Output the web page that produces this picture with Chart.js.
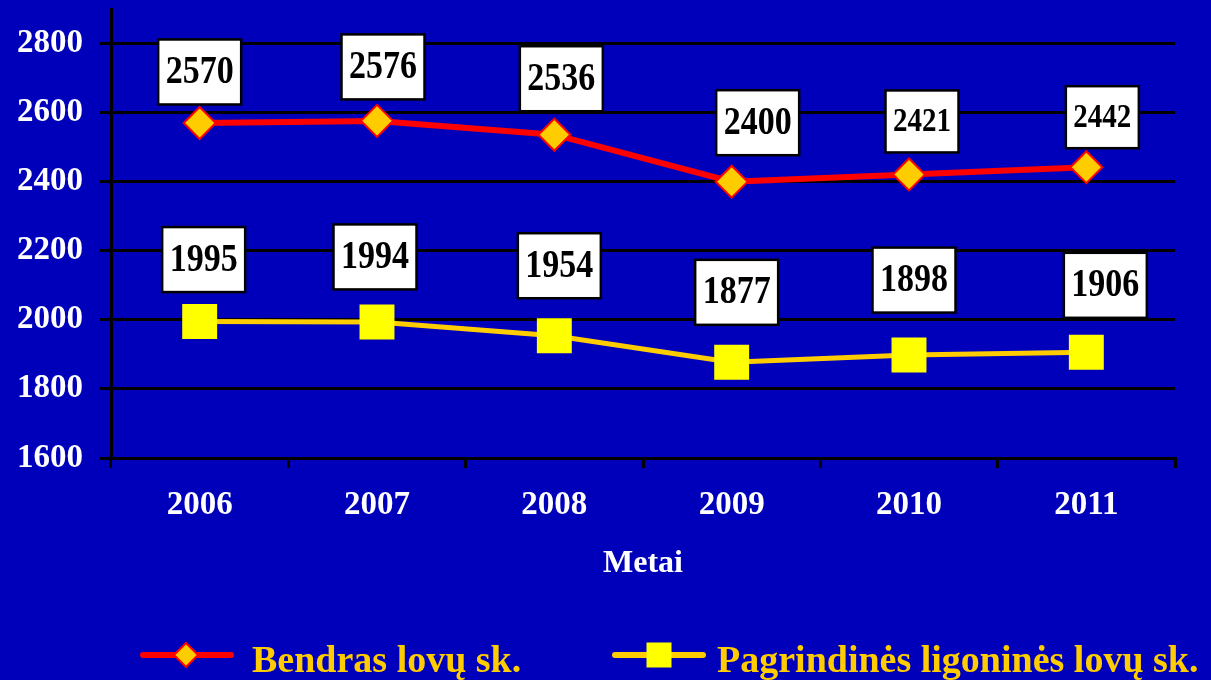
<!DOCTYPE html>
<html><head><meta charset="utf-8">
<script src="https://cdn.jsdelivr.net/npm/chart.js@4/dist/chart.umd.min.js"></script>
<style>html,body{margin:0;padding:0;background:#0000BB;overflow:hidden}canvas{display:block}</style>
</head><body>
<canvas id="c" width="1211" height="680"></canvas>
<script>
const years = ['2006','2007','2008','2009','2010','2011'];
const totalBeds = [2570,2576,2536,2400,2421,2442];
const mainBeds = [1995,1994,1954,1877,1898,1906];
const yTicks = [1600,1800,2000,2200,2400,2600,2800];
const seriesNames = ['Bendras lovų sk.','Pagrindinės ligoninės lovų sk.'];
const xTitle = 'Metai';

const FONT = '"Liberation Serif","Times New Roman",serif';
const BG = '#0000BB';
const GOLD = '#FFCC00';

const labelStyle = [
  {offsets: [[0,-51],[6,-54],[7,-56],[26,-59],[13,-53],[16,-50]], sizes:[34,34,34,34,29,29]},
  {offsets: [[4,-62],[-2,-65],[5,-70],[5,-70],[5,-75],[19,-67]], sizes:[34,34,34,34,34,34]}
];

const bgPlugin = {
  id: 'bg',
  beforeDraw(chart) {
    const c = chart.ctx;
    c.save(); c.fillStyle = BG; c.fillRect(0,0,chart.width,chart.height); c.restore();
  }
};

const labelPlugin = {
  id: 'boxLabels',
  afterDatasetsDraw(chart) {
    const c = chart.ctx;
    chart.data.datasets.forEach((ds, di) => {
      const meta = chart.getDatasetMeta(di);
      meta.data.forEach((pt, i) => {
        const st = labelStyle[di];
        const cx = pt.x + st.offsets[i][0], cy = pt.y + st.offsets[i][1];
        const size = st.sizes[i];
        const txt = String(ds.data[i]);
        c.save();
        c.font = `bold ${size}px ${FONT}`;
        const tw = c.measureText(txt).width;
        const w = tw + 15, h = size < 32 ? 62 : 65;
        c.fillStyle = '#fff';
        c.fillRect(cx - w/2, cy - h/2, w, h);
        c.lineWidth = 2.5; c.strokeStyle = '#000';
        c.strokeRect(cx - w/2, cy - h/2, w, h);
        c.translate(cx, cy + 1);
        c.scale(1, 1.15);
        c.textAlign = 'center'; c.textBaseline = 'middle';
        c.fillStyle = '#000';
        c.fillText(txt, 0, 0);
        c.restore();
      });
    });
  }
};

const legendPlugin = {
  id: 'customLegend',
  afterDraw(chart) {
    const c = chart.ctx;
    const y = 655;
    c.save();
    c.lineCap = 'round';
    c.strokeStyle = '#FF0000'; c.lineWidth = 6;
    c.beginPath(); c.moveTo(143, y); c.lineTo(231, y); c.stroke();
    c.beginPath();
    const r = 12, dx = 186;
    c.moveTo(dx - r, y); c.lineTo(dx, y - r); c.lineTo(dx + r, y); c.lineTo(dx, y + r); c.closePath();
    c.fillStyle = GOLD; c.fill();
    c.lineWidth = 2; c.strokeStyle = '#FF0000'; c.lineCap = 'butt'; c.stroke();
    c.lineCap = 'round';
    c.strokeStyle = GOLD; c.lineWidth = 6;
    c.beginPath(); c.moveTo(615, y); c.lineTo(703, y); c.stroke();
    c.fillStyle = '#FFFF00';
    c.fillRect(659 - 12.5, y - 12.5, 25, 25);
    c.fillStyle = GOLD;
    c.font = `bold 38px ${FONT}`;
    c.textBaseline = 'alphabetic'; c.textAlign = 'left';
    c.fillText(seriesNames[0], 252, 672);
    c.fillText(seriesNames[1], 717, 672);
    c.restore();
  }
};

new Chart(document.getElementById('c'), {
  type: 'line',
  data: {
    labels: years,
    datasets: [
      {
        label: seriesNames[0], data: totalBeds,
        borderColor: '#FF0000', borderWidth: 6, tension: 0,
        pointStyle: 'rectRot', pointRadius: 16,
        pointBackgroundColor: GOLD, pointBorderColor: '#FF0000', pointBorderWidth: 2,
        clip: false
      },
      {
        label: seriesNames[1], data: mainBeds,
        borderColor: GOLD, borderWidth: 5, tension: 0,
        pointStyle: 'rect', pointRadius: 24.7,
        pointBackgroundColor: '#FFFF00', pointBorderColor: '#FFFF00', pointBorderWidth: 0,
        clip: false
      }
    ]
  },
  options: {
    responsive: false,
    animation: false,
    events: [],
    layout: { autoPadding: false, padding: { left: 0, right: 36, top: 9, bottom: 100 } },
    plugins: { legend: { display: false }, tooltip: { enabled: false } },
    scales: {
      x: {
        offset: true,
        afterFit: s => { s.height = 122; s.paddingLeft = 0; s.paddingRight = 0; },
        grid: { display: true, drawOnChartArea: false, drawTicks: true, tickLength: 10, color: '#000', lineWidth: 3, offset: true },
        border: { display: true, color: '#000', width: 3 },
        ticks: { color: '#fff', font: { family: FONT, size: 33, weight: 'bold' }, padding: 18, maxRotation: 0 },
        title: { display: true, text: xTitle, color: '#fff', font: { family: FONT, size: 32, weight: 'bold', lineHeight: 1 }, padding: 0 }
      },
      y: {
        min: 1600, max: 2900,
        afterBuildTicks: s => { s.ticks = yTicks.map(v => ({ value: v })); },
        afterFit: s => { s.width = 111; s.paddingTop = 0; s.paddingBottom = 0; },
        grid: { color: '#000', lineWidth: 3, tickLength: 11, drawTicks: true },
        border: { display: true, color: '#000', width: 3 },
        ticks: { color: '#fff', font: { family: FONT, size: 33, weight: 'bold', lineHeight: 0.1 }, padding: 17, callback: v => String(v) }
      }
    }
  },
  plugins: [bgPlugin, labelPlugin, legendPlugin]
});
</script>
</body></html>
